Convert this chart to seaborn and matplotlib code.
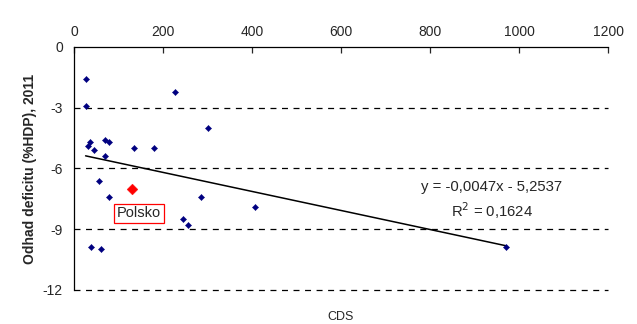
import numpy as np
import pandas as pd
import matplotlib
matplotlib.use("Agg")
import matplotlib.pyplot as plt
import seaborn as sns

# CDS (x) vs. estimated deficit 2011 (y)
cds = [27, 26, 228, 300, 31, 37, 45, 70, 79, 134, 180, 69, 56, 79, 285,
       246, 256, 38, 60, 407, 971]
deficit = [-1.6, -2.9, -2.2, -4.0, -4.9, -4.7, -5.1, -4.6, -4.7, -5.0, -5.0,
           -5.4, -6.6, -7.4, -7.4, -8.5, -8.8, -9.9, -10.0, -7.9, -9.9]
poland_cds = [131]
poland_deficit = [-7.0]

slope = -0.0047
intercept = -5.2537
eq_label = "y = -0,0047x - 5,2537"
r2_label = "R$^2$ = 0,1624"

x_ticks = [0, 200, 400, 600, 800, 1000, 1200]
y_ticks = [0, -3, -6, -9, -12]

sns.set_style("white")
plt.rcParams['font.family'] = ['Liberation Sans', 'DejaVu Sans']
plt.rcParams['lines.scale_dashes'] = False
plt.rcParams['axes.unicode_minus'] = False

df = pd.DataFrame({'CDS': cds, 'deficit': deficit})
pl = pd.DataFrame({'CDS': poland_cds, 'deficit': poland_deficit})

fig = plt.figure(figsize=(6.37, 3.24), dpi=100)
ax = fig.add_axes([0.1162, 0.105, 0.8383, 0.750])

for yv in y_ticks[1:]:
    ax.axhline(yv, color='black', lw=0.9, linestyle=(0, (4.3, 4.0)),
               zorder=1, clip_on=False)

sns.scatterplot(x='CDS', y='deficit', data=df, ax=ax, marker='D', s=10,
                color='#000080', edgecolor='#000080', linewidth=0.3, zorder=3)
sns.scatterplot(x='CDS', y='deficit', data=pl, ax=ax, marker='D', s=30,
                color='#ff0000', edgecolor='#ff0000', linewidth=0.3, zorder=3)

xs = np.array([min(cds), max(cds)])
ax.plot(xs, slope * xs + intercept, color='black', lw=1.1, zorder=2)

ax.text(939, -6.9, eq_label, ha='center', va='center', fontsize=10.7)
ax.text(939, -8.1, r2_label, ha='center', va='center', fontsize=10.7)
ax.text(145, -8.22, "Polsko", ha='center', va='center', fontsize=10.5,
        bbox=dict(boxstyle='square,pad=0.2', fc='white', ec='#ff0000', lw=0.9))

ax.set_xlim(0, 1200)
ax.set_ylim(-12, 0)
ax.set_xticks(x_ticks)
ax.set_yticks(y_ticks)
ax.xaxis.tick_top()
ax.tick_params(axis='x', direction='in', length=4, width=0.9, labelsize=10, pad=6)
ax.tick_params(axis='y', direction='out', length=4, width=0.9, labelsize=10, pad=4)
for side in ['right', 'bottom']:
    ax.spines[side].set_visible(False)
for side in ['left', 'top']:
    ax.spines[side].set_color('black')
    ax.spines[side].set_linewidth(0.9)

ax.set_xlabel('CDS', fontsize=9)
ax.xaxis.set_label_position('bottom')
ax.xaxis.labelpad = 15
ax.set_ylabel('Odhad deficitu (%HDP), 2011', fontsize=10, fontweight='bold', labelpad=4)

fig.savefig('out.png', dpi=100)
